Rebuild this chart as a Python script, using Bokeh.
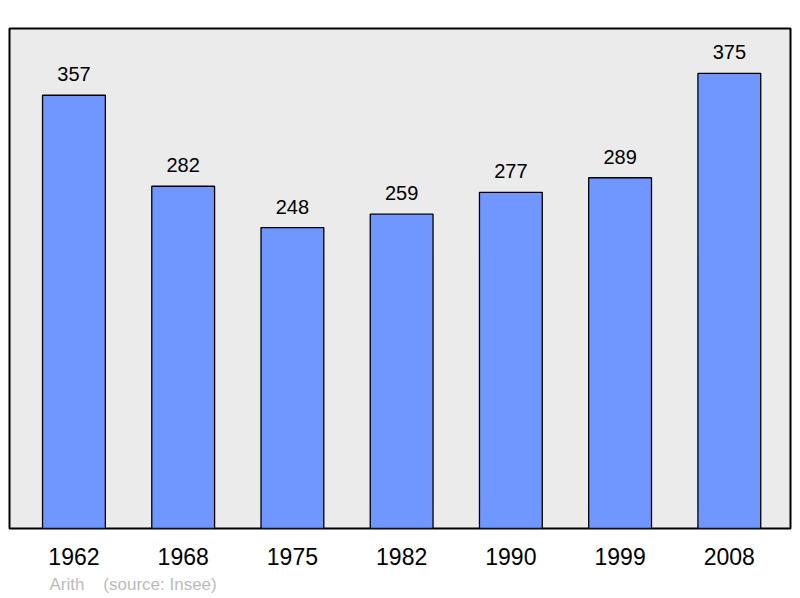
from bokeh.plotting import figure
from bokeh.models import ColumnDataSource, FixedTicker, Title, Range1d
from bokeh.core.properties import value
from bokeh.embed import file_html
from bokeh.resources import INLINE

years = ["1962", "1968", "1975", "1982", "1990", "1999", "2008"]
population = [357, 282, 248, 259, 277, 289, 375]
source_note = "Arith    (source: Insee)"

xs = list(range(len(years)))
src = ColumnDataSource(dict(x=xs, top=population, label=[str(v) for v in population]))

FONT = "Liberation Sans"

p = figure(width=794, height=598, output_backend="svg", toolbar_location=None,
           x_range=Range1d(-0.59, 6.56), y_range=Range1d(0, 412),
           min_border_left=9, min_border_right=4, min_border_top=28, min_border_bottom=68)
p.background_fill_color = "#EBEBEB"
p.border_fill_color = "white"
p.outline_line_color = "black"
p.outline_line_width = 2
p.grid.visible = False
p.yaxis.visible = False

p.vbar(x="x", top="top", width=0.575, bottom=0, source=src,
       fill_color="#7096FF", line_color="black", line_width=1.3)
p.text(x="x", y="top", text="label", source=src, y_offset=-21,
       text_align="center", text_baseline="alphabetic",
       text_font=value(FONT), text_font_size="20px", text_color="black")

ax = p.xaxis[0]
ax.ticker = FixedTicker(ticks=xs)
ax.major_label_overrides = {i: y for i, y in zip(xs, years)}
ax.axis_line_color = None
ax.major_tick_line_color = None
ax.minor_tick_line_color = None
ax.major_tick_out = 0
ax.major_label_standoff = 19
ax.major_label_text_font = FONT
ax.major_label_text_font_size = "23px"
ax.major_label_text_color = "black"

p.add_layout(Title(text=source_note.replace(" ", "\u00a0"), align="left", offset=40,
                   text_font=FONT, text_font_size="17px", text_font_style="normal",
                   text_color="#BBBBBB"), "below")

open("out.html", "w").write(file_html(p, INLINE))
